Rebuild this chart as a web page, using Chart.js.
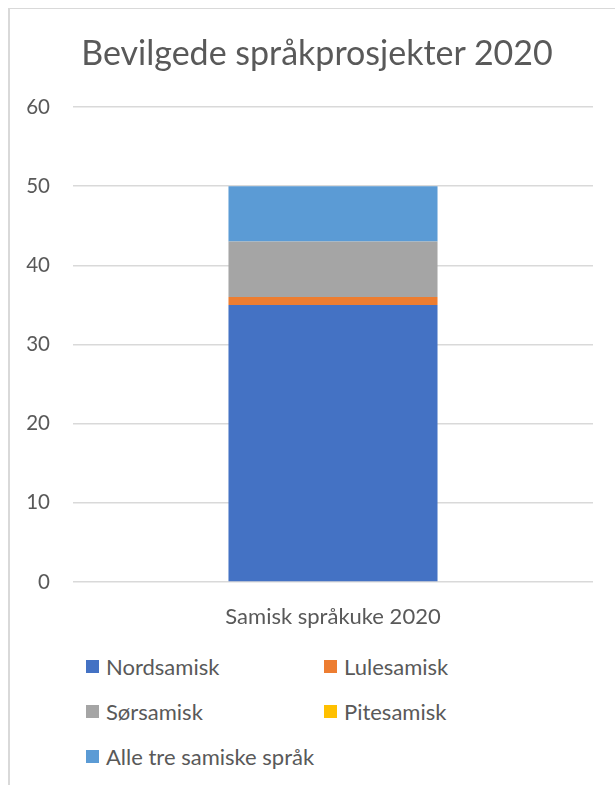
<!DOCTYPE html>
<html>
<head>
<meta charset="utf-8">
<script src="https://cdn.jsdelivr.net/npm/chart.js"></script>
<style>
  body { margin: 0; background: #fff; font-family: Lato, "Open Sans", sans-serif; }
  #frame { position: absolute; left: 8px; top: 8px; width: 640px; height: 800px;
           border-top: 1px solid #d9d9d9; border-left: 2px solid #d9d9d9; }
  #title { position: absolute; left: 17px; width: 600px; top: 31px; text-align: center;
           font-size: 34px; line-height: 42px; color: #595959; white-space: nowrap; }
  #canvas { position: absolute; left: 0; top: 0; }
  #legend { position: absolute; left: 86px; top: 644px; display: grid;
            grid-template-columns: 238px 220px; }
  .item { display: flex; align-items: center; height: 45px; font-size: 22px; color: #595959; }
  .box { width: 13px; height: 13px; margin-right: 7px; flex: none; }
</style>
</head>
<body>
<div id="frame"></div>
<canvas id="canvas" width="615" height="640"></canvas>
<div id="title">Bevilgede språkprosjekter 2020</div>
<div id="legend"></div>
<script>
const categories = ['Samisk språkuke 2020'];
const seriesNames = ['Nordsamisk', 'Lulesamisk', 'Sørsamisk', 'Pitesamisk', 'Alle tre samiske språk'];
const nordsamisk = [35];
const lulesamisk = [1];
const sorsamisk = [7];
const pitesamisk = [0];
const alleTre = [7];
const yTicks = [0, 10, 20, 30, 40, 50, 60];
const colors = ['#4472C4', '#ED7D31', '#A5A5A5', '#FFC000', '#5B9BD5'];

const values = [nordsamisk, lulesamisk, sorsamisk, pitesamisk, alleTre];
const textColor = '#595959';

let datasets = seriesNames.map(function (name, i) {
    return {
        label: name,
        data: values[i],
        backgroundColor: colors[i],
        borderWidth: 0,
        categoryPercentage: 1,
        barPercentage: 0.402
    };
});

let ctx = document.getElementById('canvas').getContext('2d');
new Chart(ctx, {
    type: 'bar',
    data: { labels: categories, datasets: datasets },
    options: {
        responsive: false,
        animation: false,
        layout: { padding: { left: 0, right: 22, top: 107, bottom: 0 } },
        plugins: {
            legend: { display: false },
            tooltip: { enabled: false }
        },
        scales: {
            x: {
                stacked: true,
                grid: { display: false },
                border: { display: false },
                ticks: { color: textColor, font: { family: 'Lato', size: 22 }, padding: 14 },
                afterFit: function (s) { s.height = 58; }
            },
            y: {
                stacked: true,
                min: yTicks[0],
                max: yTicks[yTicks.length - 1],
                afterBuildTicks: function (s) { s.ticks = yTicks.map(function (v) { return { value: v }; }); },
                grid: { color: '#d9d9d9', lineWidth: 1.5, drawTicks: false },
                border: { display: false },
                ticks: { color: textColor, font: { family: 'Lato', size: 20.5 }, padding: 23 },
                afterFit: function (s) { s.width = 73; }
            }
        }
    }
});

// legend in two columns, like the original
let legend = document.getElementById('legend');
seriesNames.forEach(function (name, i) {
    let item = document.createElement('div');
    item.className = 'item';
    let box = document.createElement('span');
    box.className = 'box';
    box.style.background = colors[i];
    item.appendChild(box);
    item.appendChild(document.createTextNode(name));
    legend.appendChild(item);
});
</script>
</body>
</html>
